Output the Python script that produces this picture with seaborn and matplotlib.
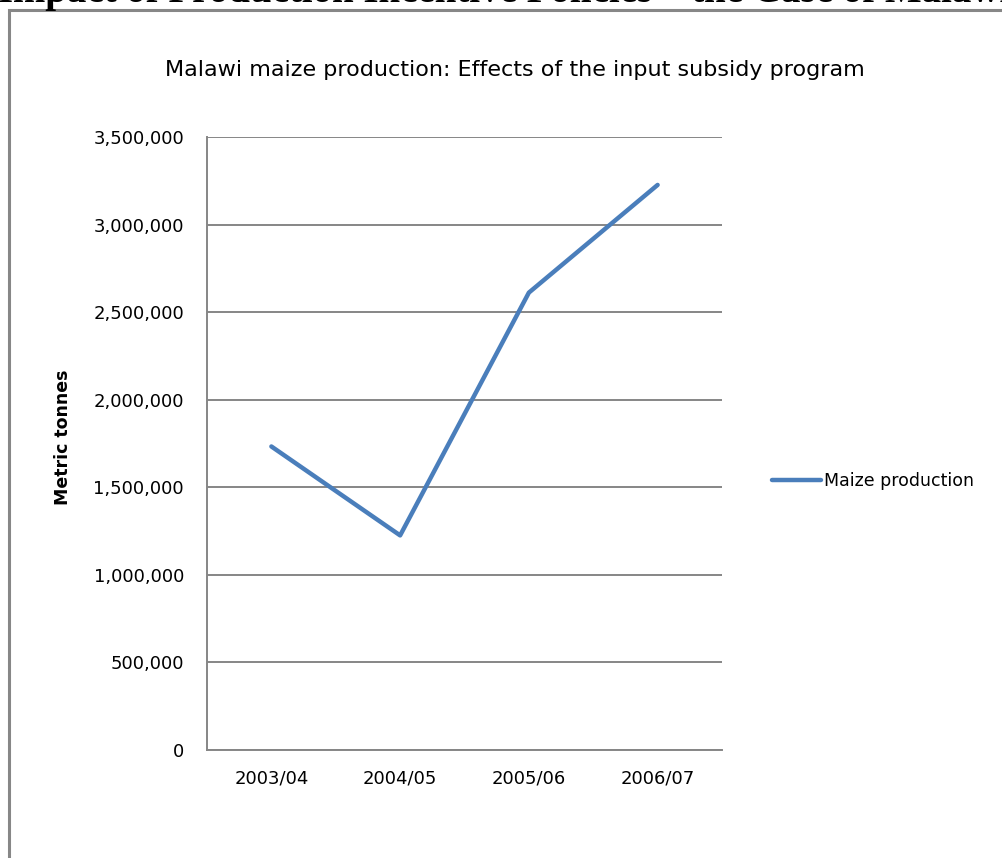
import pandas as pd
import matplotlib
matplotlib.use("Agg")
import matplotlib.pyplot as plt
import matplotlib.ticker as mticker
from matplotlib.patches import Rectangle
import seaborn as sns

# data
seasons = ["2003/04", "2004/05", "2005/06", "2006/07"]
production = [1733125, 1225234, 2611486, 3226418]
series_name = "Maize production"
y_ticks = [0, 500000, 1000000, 1500000, 2000000, 2500000, 3000000, 3500000]

sns.set_theme(style="white")
plt.rcParams["font.family"] = ["DejaVu Sans"]
plt.rcParams["text.color"] = "black"

df = pd.DataFrame({"season": seasons, "tonnes": production, "series": series_name})

fig = plt.figure(figsize=(10.03, 8.58), dpi=100)
fig.patch.set_facecolor("white")

# frame around the chart (runs off page to the right/bottom)
fig.patches.append(Rectangle((9 / 1003, -0.05), 1.1, 1.05 - 10 / 858,
                             transform=fig.transFigure, fill=False,
                             edgecolor="#878787", linewidth=2.2, zorder=0))

# document heading above the frame, only its lower part shows
fig.text(-0.002, 1 - 2 / 858, "Impact of Production Incentive Policies \u2013 the Case of Malawi",
         family="Liberation Serif", fontweight="bold", fontsize=28,
         ha="left", va="baseline")

ax = fig.add_axes([207 / 1003, 1 - 750 / 858, 515 / 1003, 613 / 858])
sns.lineplot(data=df, x="season", y="tonnes", hue="series", palette=["#4A7EBB"],
             linewidth=3.2, sort=False, ax=ax)

ax.set_xlim(-0.5, 3.5)
ax.set_ylim(0, 3500000)
ax.set_yticks(y_ticks)
ax.yaxis.set_major_formatter(mticker.StrMethodFormatter("{x:,.0f}"))
ax.grid(axis="y", color="#868686", linewidth=1.4)
ax.grid(axis="x", visible=False)
ax.set_axisbelow(True)
for side in ["top", "right"]:
    ax.spines[side].set_visible(False)
for side in ["left", "bottom"]:
    ax.spines[side].set_color("#868686")
    ax.spines[side].set_linewidth(1.4)
ax.tick_params(axis="both", length=0, labelsize=13, colors="black")
ax.tick_params(axis="y", pad=16.5)
ax.tick_params(axis="x", pad=14)
ax.set_xlabel("")
ax.set_ylabel("Metric tonnes", fontweight="bold", fontsize=12.5, color="black")
ax.yaxis.set_label_coords(-0.262, 0.51)

ax.set_title("Malawi maize production: Effects of the input subsidy program",
             fontsize=16, pad=44, x=0.598, color="black")

handles, labels = ax.get_legend_handles_labels()
leg = ax.legend(handles, labels, loc="center left", bbox_to_anchor=(765 / 1003, 1 - 481 / 858),
                bbox_transform=fig.transFigure, frameon=False, fontsize=12.5,
                handlelength=2.8, handletextpad=0.2, borderaxespad=0)
for t in leg.get_texts():
    t.set_color("black")

fig.savefig("out.png", dpi=100, facecolor="white")
